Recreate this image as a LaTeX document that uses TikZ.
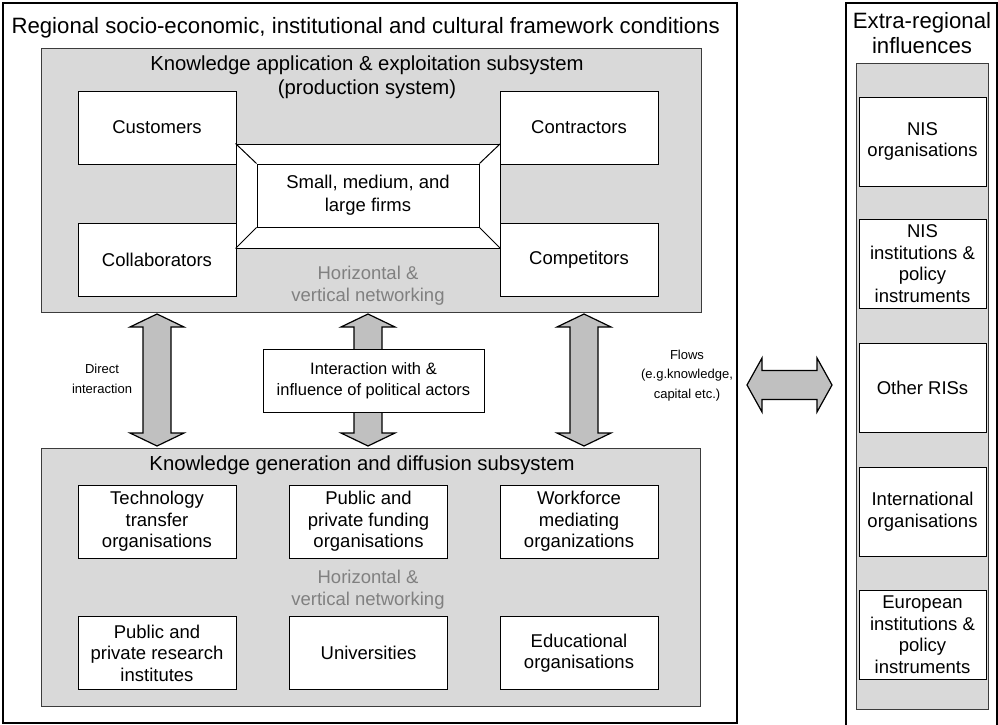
\documentclass[tikz,border=0pt]{standalone}
\usepackage{fontspec}
\setmainfont{Liberation Sans}
\usetikzlibrary{calc}

\definecolor{panelgray}{RGB}{217,217,217}
\definecolor{arrowgray}{RGB}{192,192,192}
\definecolor{netgray}{RGB}{128,128,128}
\definecolor{edgegray}{RGB}{60,60,60}

\tikzset{
  frame/.style={draw=black, line width=2.2pt, inner sep=0pt},
  panel/.style={draw=edgegray, fill=panelgray, line width=1pt, inner sep=0pt},
  box/.style={draw=black, fill=white, line width=1pt, align=center, inner sep=0pt,
    font=\fontsize{18.5}{21.5}\selectfont},
  sidebox/.style={box, minimum width=127pt, minimum height=89pt},
  firmbox/.style={box, minimum width=158pt, minimum height=73pt},
  fatarrow/.style={draw=black, fill=arrowgray, line width=1.2pt, line join=miter},
  headtext/.style={align=center, font=\fontsize{22.2}{25}\selectfont},
  subtext/.style={align=center, font=\fontsize{20.3}{24}\selectfont},
  nettext/.style={text=netgray, align=center, font=\fontsize{18.5}{22}\selectfont},
  flowtext/.style={align=center, font=\fontsize{13}{19.5}\selectfont}
}

\newcommand{\vfatarrow}[2]{%
  \filldraw[fatarrow] (#1) -- ($(#1)+(27,13)$) -- ($(#1)+(14,13)$) -- ($(#2)+(14,-13)$)
    -- ($(#2)+(27,-13)$) -- (#2) -- ($(#2)+(-27,-13)$) -- ($(#2)+(-14,-13)$)
    -- ($(#1)+(-14,13)$) -- ($(#1)+(-27,13)$) -- cycle;}
\newcommand{\hfatarrow}[2]{%
  \filldraw[fatarrow] (#1) -- ($(#1)+(15,-27)$) -- ($(#1)+(15,-14.5)$) -- ($(#2)+(-15,-14.5)$)
    -- ($(#2)+(-15,-27)$) -- (#2) -- ($(#2)+(-15,27)$) -- ($(#2)+(-15,14.5)$)
    -- ($(#1)+(15,14.5)$) -- ($(#1)+(15,27)$) -- cycle;}

\begin{document}
\begin{tikzpicture}[x=1pt, y=-1pt]
\useasboundingbox (0,0) rectangle (998,725);

\node[frame, minimum width=734pt, minimum height=720pt] (region) at (370,363) {};
\node[headtext, anchor=west] (regtitle) at (8,28) {Regional socio-economic, institutional and cultural framework conditions};

\node[panel, minimum width=660pt, minimum height=263pt] (appl) at (371,180.5) {};
\node[subtext] (appltitle) at (367,77.5) {Knowledge application \& exploitation subsystem\\(production system)};
\node[firmbox] (cust) at (157,127.5) {Customers};
\node[firmbox] (contr) at (579,127.5) {Contractors};
\node[firmbox] (collab) at (157,259.5) {Collaborators};
\node[firmbox] (compet) at (579,259.5) {Competitors};
\node[draw, fill=white, line width=1pt, minimum width=264pt, minimum height=104pt] (firmframe) at (368,196) {};
\node[box, minimum width=222pt, minimum height=63pt, font=\fontsize{18.5}{23}\selectfont] (firms) at (368,195.5) {Small, medium, and\\large firms};
\draw[line width=1pt] (firmframe.north west) -- (firms.north west);
\draw[line width=1pt] (firmframe.north east) -- (firms.north east);
\draw[line width=1pt] (firmframe.south west) -- (firms.south west);
\draw[line width=1pt] (firmframe.south east) -- (firms.south east);
\node[nettext] (applnet) at (368,286) {Horizontal \&\\vertical networking};

\node[panel, minimum width=659pt, minimum height=258pt] (gen) at (370.5,577) {};
\node[subtext] (gentitle) at (362,465) {Knowledge generation and diffusion subsystem};
\node[firmbox] (techtr) at (157,521.5) {Technology\\transfer\\organisations};
\node[firmbox] (funding) at (368.5,521.5) {Public and\\private funding\\organisations};
\node[firmbox] (workforce) at (579,521.5) {Workforce\\mediating\\organizations};
\node[firmbox] (research) at (157,653) {Public and\\private research\\institutes};
\node[firmbox] (univ) at (368.5,653) {Universities};
\node[firmbox] (edu) at (579,653) {Educational\\organisations};
\node[nettext] (gennet) at (368,590) {Horizontal \&\\vertical networking};

\coordinate (direct1) at (157,314);
\coordinate (direct2) at (157,446);
\coordinate (polit1) at (368,314);
\coordinate (polit2) at (368,446);
\coordinate (flow1) at (584,314);
\coordinate (flow2) at (584,446);
\vfatarrow{direct1}{direct2}
\vfatarrow{polit1}{polit2}
\vfatarrow{flow1}{flow2}
\node[box, minimum width=221pt, minimum height=63pt, font=\fontsize{16.5}{21}\selectfont] (polit) at (373.5,380.5) {Interaction with \&\\influence of political actors};
\node[flowtext] (directlbl) at (102,379) {Direct\\interaction};
\node[flowtext] (flowlbl) at (687,375.5) {Flows\\(e.g.knowledge,\\capital etc.)};

\draw[frame] (846,726) |- (997,3) -- (997,726);
\node[headtext] (extitle) at (922,33) {Extra-regional\\influences};
\node[panel, minimum width=132pt, minimum height=645pt] (extra) at (922,386.5) {};
\node[sidebox] (nisorg) at (922.5,141.5) {NIS\\organisations};
\node[sidebox] (nisinst) at (922.5,263.5) {NIS\\institutions \&\\policy\\instruments};
\node[sidebox] (otherris) at (922.5,387.5) {Other RISs};
\node[sidebox] (intorg) at (922.5,511.5) {International\\organisations};
\node[sidebox] (euinst) at (922.5,634.5) {European\\institutions \&\\policy\\instruments};

\coordinate (ext1) at (747,385);
\coordinate (ext2) at (832,385);
\hfatarrow{ext1}{ext2}
\end{tikzpicture}
\end{document}
